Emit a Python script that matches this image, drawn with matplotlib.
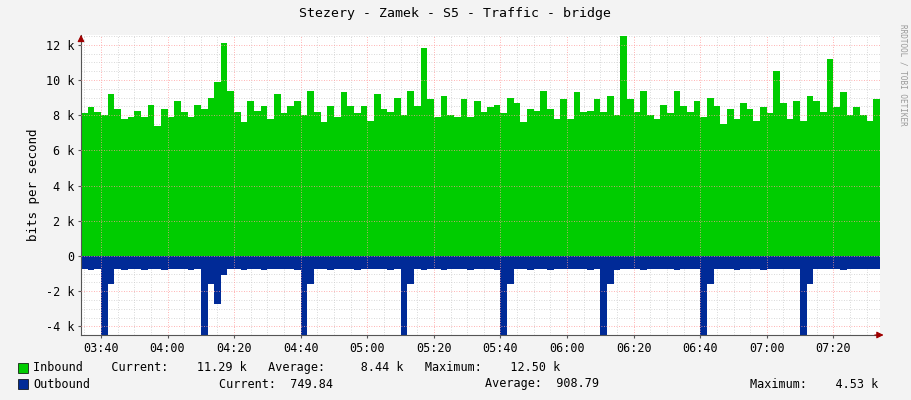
import numpy as np
import matplotlib
matplotlib.use("Agg")
import matplotlib.pyplot as plt

# 2-minute samples starting 03:34
start_min = 3 * 60 + 34
step = 2
inbound_k = [8.1, 8.45, 8.2, 8.0, 9.2, 8.35, 7.8, 7.9, 8.25, 7.9, 8.6, 7.4, 8.35, 7.9, 8.8,
             8.2, 7.9, 8.6, 8.35, 9.0, 9.9, 12.1, 9.4, 8.2, 7.6, 8.8, 8.25, 8.5, 7.8, 9.2,
             8.1, 8.5, 8.8, 8.0, 9.4, 8.2, 7.6, 8.5, 7.9, 9.3, 8.5, 8.1, 8.5, 7.7, 9.2,
             8.35, 8.2, 9.0, 8.0, 9.4, 8.5, 11.8, 8.9, 7.9, 9.1, 8.0, 7.9, 8.9, 7.9, 8.8,
             8.2, 8.45, 8.6, 8.1, 9.0, 8.7, 7.6, 8.35, 8.25, 9.4, 8.35, 7.8, 8.9, 7.8, 9.3,
             8.2, 8.25, 8.9, 8.2, 9.1, 8.0, 12.5, 8.9, 8.2, 9.4, 8.0, 7.8, 8.6, 8.1, 9.4,
             8.5, 8.2, 8.8, 7.9, 9.0, 8.5, 7.5, 8.35, 7.8, 8.7, 8.35, 7.7, 8.45, 8.1, 10.5,
             8.7, 7.8, 8.8, 7.7, 9.1, 8.8, 8.2, 11.2, 8.45, 9.3, 8.0, 8.45, 8.0, 7.7, 8.9]
outbound_k = [0.75, 0.78, 0.75, 4.5, 1.6, 0.75, 0.78, 0.75, 0.75, 0.78, 0.75, 0.75, 0.78, 0.75, 0.75,
              0.75, 0.78, 0.75, 4.5, 1.6, 2.7, 1.1, 0.75, 0.75, 0.78, 0.75, 0.75, 0.78, 0.75, 0.75,
              0.75, 0.75, 0.78, 4.5, 1.6, 0.75, 0.75, 0.78, 0.75, 0.75, 0.75, 0.78, 0.75, 0.75, 0.75,
              0.75, 0.78, 0.75, 4.5, 1.6, 0.75, 0.8, 0.75, 0.75, 0.78, 0.75, 0.75, 0.75, 0.78, 0.75,
              0.75, 0.75, 0.78, 4.5, 1.6, 0.75, 0.75, 0.78, 0.75, 0.75, 0.78, 0.75, 0.75, 0.75, 0.75,
              0.75, 0.78, 0.75, 4.5, 1.6, 0.78, 0.75, 0.75, 0.75, 0.78, 0.75, 0.75, 0.75, 0.75, 0.78,
              0.75, 0.75, 0.75, 4.5, 1.6, 0.75, 0.75, 0.75, 0.78, 0.75, 0.75, 0.75, 0.78, 0.75, 0.75,
              0.75, 0.75, 0.75, 4.5, 1.6, 0.75, 0.75, 0.75, 0.75, 0.78, 0.75, 0.75, 0.75, 0.75, 0.75]
tick_labels = ["03:40", "04:00", "04:20", "04:40", "05:00", "05:20", "05:40",
               "06:00", "06:20", "06:40", "07:00", "07:20"]
y_ticks_k = [-4, -2, 0, 2, 4, 6, 8, 10, 12]

t = start_min + step * np.arange(len(inbound_k) + 1)
inb = np.array(inbound_k + [inbound_k[-1]]) * 1000
outb = -np.array(outbound_k + [outbound_k[-1]]) * 1000

mono = "DejaVu Sans Mono"
fig = plt.figure(figsize=(9.11, 4.0), dpi=100, facecolor="#F3F3F3")
ax = fig.add_axes([81 / 911, 65 / 400, 799 / 911, 300 / 400], facecolor="white")

ax.fill_between(t, 0, inb, step="post", color="#00CC00", lw=0, zorder=2)
ax.fill_between(t, 0, outb, step="post", color="#002A97", lw=0, zorder=2)

ax.set_xlim(t[0], t[-1])
ax.set_ylim(-4490, 12560)

# grid
for m in range(3 * 60 + 35, int(t[-1]) + 1, 5):
    major = (m % 20 == 0)
    ax.axvline(m, color="#FF9999" if major else "#CCCCCC", lw=0.6, ls=(0, (1, 2)), zorder=1 if not major else 3)
for v in np.arange(-4000, 12600, 500):
    major = (v % 2000 == 0)
    ax.axhline(v, color="#FF9999" if major else "#CCCCCC", lw=0.6, ls=(0, (1, 2)), zorder=1 if not major else 3)

tick_pos = [3 * 60 + 40 + 20 * i for i in range(len(tick_labels))]
ax.set_xticks(tick_pos)
ax.set_xticklabels(tick_labels, family=mono, fontsize=8.5)
ax.set_yticks([v * 1000 for v in y_ticks_k])
ax.set_yticklabels(["%d k" % v if v != 0 else "0" for v in y_ticks_k], family=mono, fontsize=8.5)
ax.tick_params(length=2, color="#555555", pad=3)
for s in ["top", "right"]:
    ax.spines[s].set_visible(False)
for s in ["left", "bottom"]:
    ax.spines[s].set_color("#555555")
ax.annotate("", xy=(1.008, 0), xycoords="axes fraction", xytext=(0.99, 0),
            arrowprops=dict(arrowstyle="-|>", color="#A00000", lw=0.8))
ax.annotate("", xy=(0, 1.01), xycoords="axes fraction", xytext=(0, 0.98),
            arrowprops=dict(arrowstyle="-|>", color="#A00000", lw=0.8))
ax.set_ylabel("bits per second", family=mono, fontsize=9)

fig.text(455 / 911, 1 - 14 / 400, "Stezery - Zamek - S5 - Traffic - bridge", ha="center", va="center",
         family=mono, fontsize=9.5)
fig.text(903 / 911, 1 - 75 / 400, "RRDTOOL / TOBI OETIKER", rotation=270, ha="center", va="center",
         family=mono, fontsize=5.5, color="#999999")

# legend
for y, col in [(368, "#00CC00"), (384, "#002A97")]:
    fig.patches.append(plt.Rectangle((18 / 911, 1 - (y + 5) / 400), 10 / 911, 10 / 400,
                                     transform=fig.transFigure, facecolor=col, edgecolor="black", lw=0.5))
fs = 8.5
fig.text(33 / 911, 1 - 368 / 400, "Inbound    Current:    11.29 k   Average:     8.44 k   Maximum:    12.50 k",
         family=mono, fontsize=fs, va="center")
fig.text(33 / 911, 1 - 384 / 400, "Outbound", family=mono, fontsize=fs, va="center")
fig.text(219 / 911, 1 - 384 / 400, "Current:  749.84", family=mono, fontsize=fs, va="center")
fig.text(485 / 911, 1 - 384 / 400, "Average:  908.79", family=mono, fontsize=fs, va="center")
fig.text(750 / 911, 1 - 384 / 400, "Maximum:    4.53 k", family=mono, fontsize=fs, va="center")

fig.savefig("out.png", dpi=100, facecolor=fig.get_facecolor())
